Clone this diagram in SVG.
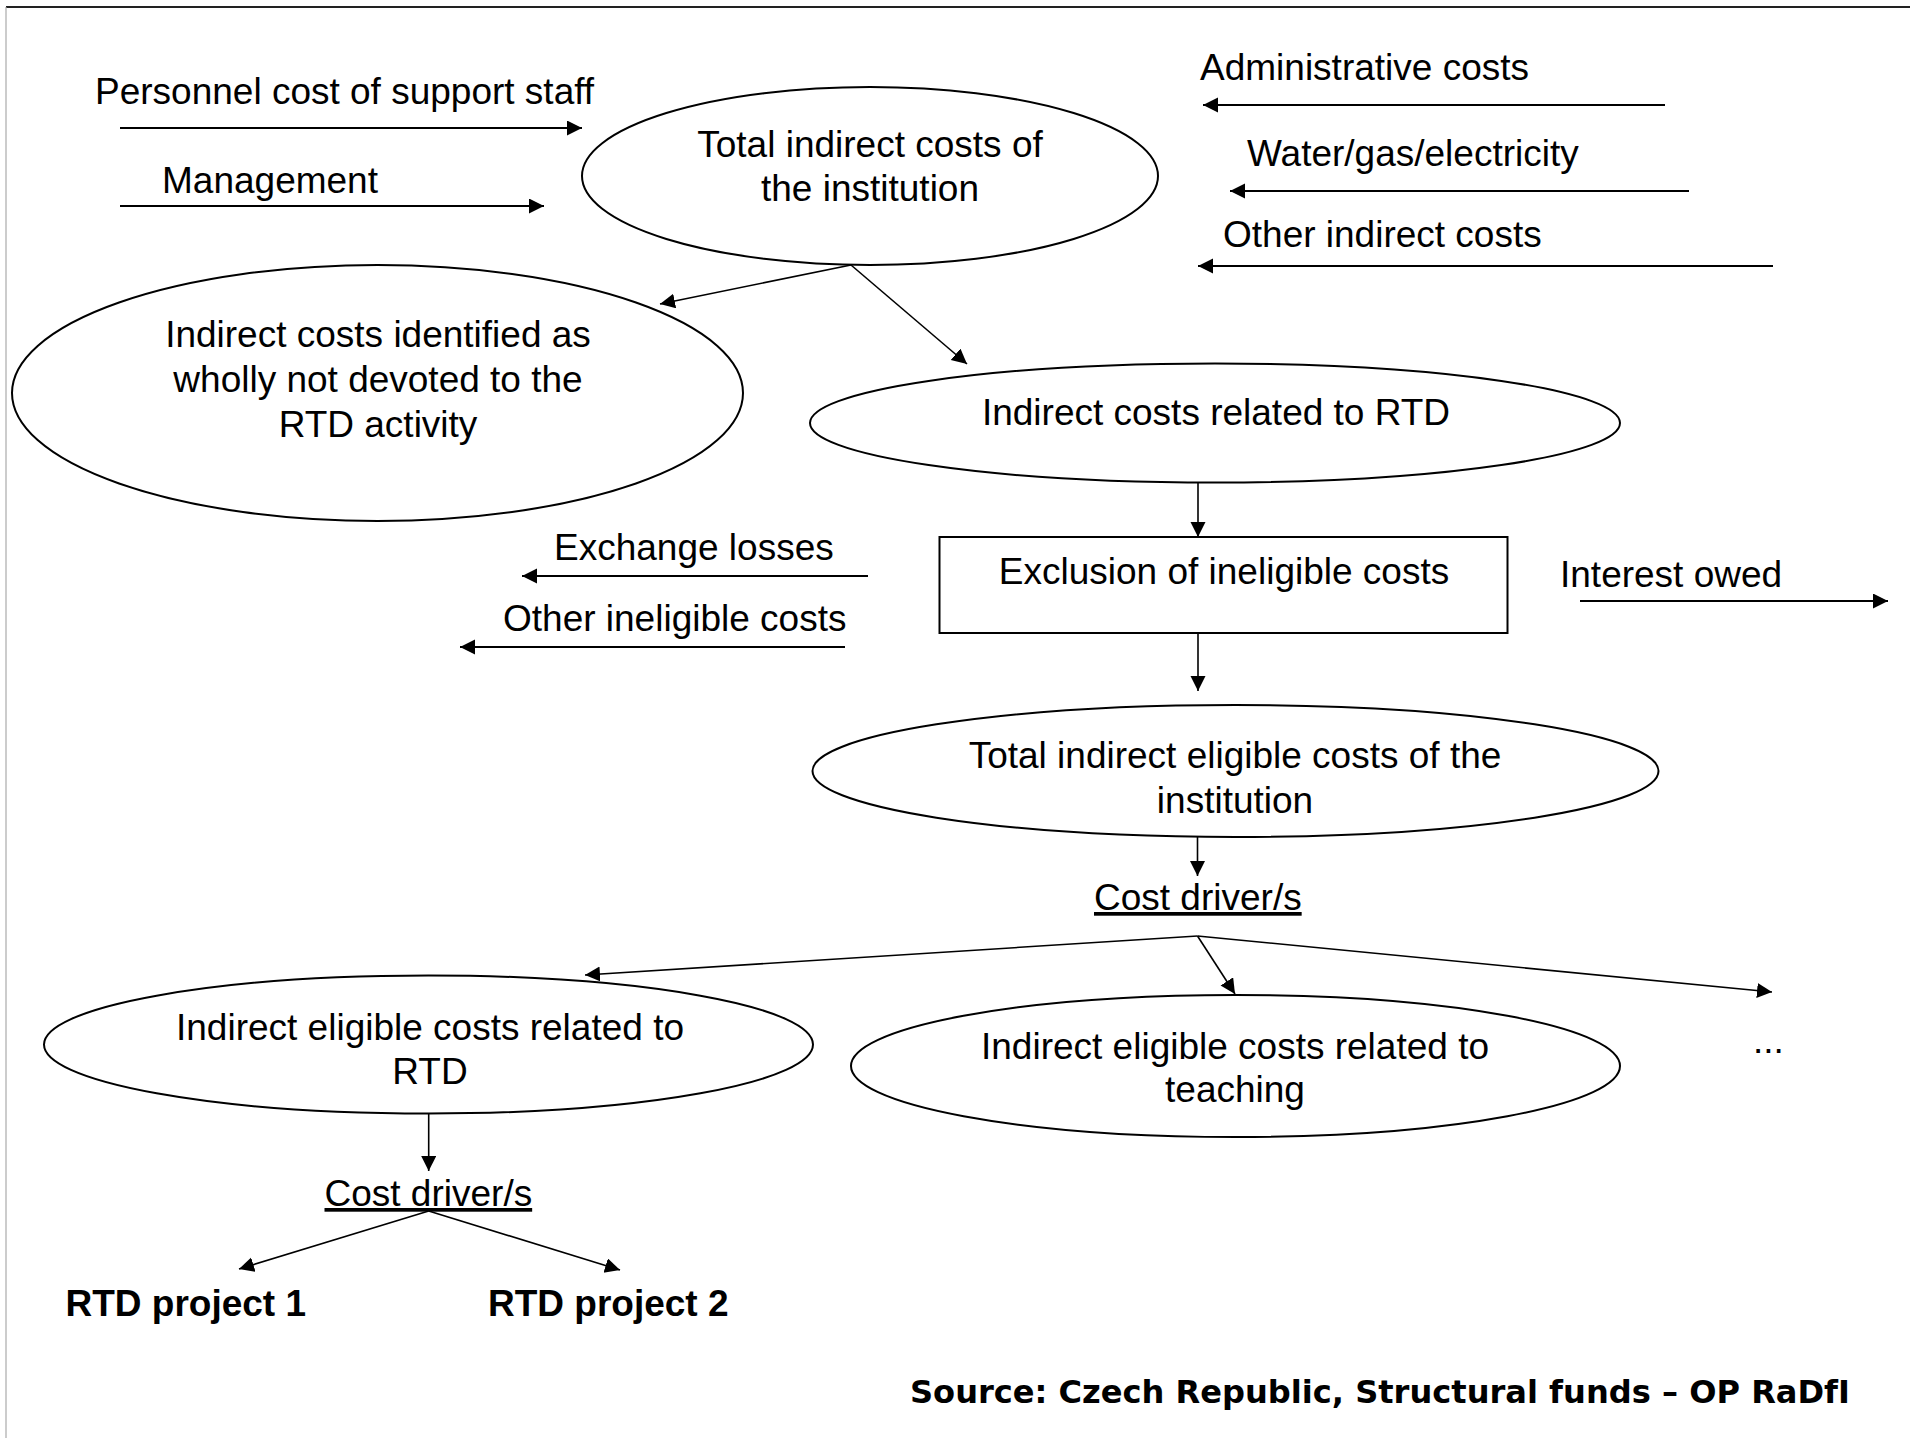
<svg xmlns="http://www.w3.org/2000/svg" width="1910" height="1438" viewBox="0 0 1910 1438">
<style>
  text { font-family: "Liberation Sans", Arial, sans-serif; font-size: 37px; fill: #000; }
  .c { text-anchor: middle; }
  .b { font-weight: bold; }
  .src { font-family: "DejaVu Sans", Verdana, sans-serif; font-weight: bold; font-size: 32px; }
  .u { text-decoration: underline; }
  .node { fill: #fff; stroke: #000; stroke-width: 2; }
  .conn line { stroke: #000; stroke-width: 1.6; marker-end: url(#ah); }
  .conn line.h { stroke-width: 2.2; }
</style>
<defs>
  <marker id="ah" markerUnits="userSpaceOnUse" markerWidth="16" markerHeight="16" refX="15" refY="7.5" orient="auto">
    <path d="M0,0 L15,7.5 L0,15 z" fill="#000"/>
  </marker>
</defs>
<rect x="0" y="0" width="1910" height="1438" fill="#fff"/>
<g id="frame">
  <line x1="6" y1="7" x2="1910" y2="7" stroke="#222" stroke-width="2.2"/>
  <line x1="6" y1="7" x2="6" y2="1438" stroke="#aaa" stroke-width="1.2"/>
</g>
<g class="conn" id="connectors">
  <line class="h" x1="120" y1="128" x2="582" y2="128"/>
  <line class="h" x1="120" y1="206" x2="544" y2="206"/>
  <line class="h" x1="1665" y1="105" x2="1203" y2="105"/>
  <line class="h" x1="1689" y1="191" x2="1230" y2="191"/>
  <line class="h" x1="1773" y1="266" x2="1198" y2="266"/>
  <line x1="851" y1="265" x2="660" y2="304"/>
  <line x1="851" y1="265" x2="967" y2="364"/>
  <line x1="1198" y1="482" x2="1198" y2="537"/>
  <line x1="1198" y1="633" x2="1198" y2="691"/>
  <line class="h" x1="868" y1="576" x2="522" y2="576"/>
  <line class="h" x1="845" y1="647" x2="460" y2="647"/>
  <line class="h" x1="1580" y1="601" x2="1888" y2="601"/>
  <line x1="1197.5" y1="837" x2="1197.5" y2="876"/>
  <line x1="1197.5" y1="936" x2="585" y2="975"/>
  <line x1="1197.5" y1="936" x2="1235" y2="994"/>
  <line x1="1197.5" y1="936" x2="1772" y2="992"/>
  <line x1="428.7" y1="1113" x2="428.7" y2="1171"/>
  <line x1="428.7" y1="1211" x2="239" y2="1269"/>
  <line x1="428.7" y1="1211" x2="620" y2="1270"/>
</g>
<g id="lbl-personnel"><text x="95" y="104">Personnel cost of support staff</text></g>
<g id="lbl-management"><text x="162" y="193">Management</text></g>
<g id="lbl-admin"><text x="1200" y="80">Administrative costs</text></g>
<g id="lbl-water"><text x="1247" y="166">Water/gas/electricity</text></g>
<g id="lbl-other-indirect"><text x="1223" y="247">Other indirect costs</text></g>
<g id="n-total">
  <ellipse class="node" cx="870" cy="176" rx="288" ry="89"/>
  <text class="c" x="870" y="157">Total indirect costs of</text>
  <text class="c" x="870" y="201">the institution</text>
</g>
<g id="n-notdevoted">
  <ellipse class="node" cx="377.5" cy="393" rx="365.5" ry="128"/>
  <text class="c" x="378" y="347">Indirect costs identified as</text>
  <text class="c" x="378" y="392">wholly not devoted to the</text>
  <text class="c" x="378" y="437">RTD activity</text>
</g>
<g id="n-rtd">
  <ellipse class="node" cx="1215" cy="423" rx="405" ry="59.5"/>
  <text class="c" x="1216" y="425">Indirect costs related to RTD</text>
</g>
<g id="n-exclusion">
  <rect class="node" x="939.5" y="537" width="568" height="96"/>
  <text class="c" x="1224" y="584">Exclusion of ineligible costs</text>
</g>
<g id="lbl-exchange"><text x="554" y="560">Exchange losses</text></g>
<g id="lbl-other-inel"><text x="503" y="631">Other ineligible costs</text></g>
<g id="lbl-interest"><text x="1560" y="587">Interest owed</text></g>
<g id="n-eligible">
  <ellipse class="node" cx="1235.5" cy="771" rx="423" ry="66"/>
  <text class="c" x="1235" y="768">Total indirect eligible costs of the</text>
  <text class="c" x="1235" y="813">institution</text>
</g>
<g id="lbl-driver1"><text class="u" x="1094" y="910">Cost driver/s</text></g>
<g id="n-elig-rtd">
  <ellipse class="node" cx="428.5" cy="1044.5" rx="384.5" ry="69"/>
  <text class="c" x="430" y="1040">Indirect eligible costs related to</text>
  <text class="c" x="430" y="1084">RTD</text>
</g>
<g id="n-elig-teach">
  <ellipse class="node" cx="1235.5" cy="1066" rx="384.5" ry="71"/>
  <text class="c" x="1235" y="1059">Indirect eligible costs related to</text>
  <text class="c" x="1235" y="1102">teaching</text>
</g>
<g id="lbl-more"><text x="1753" y="1053">...</text></g>
<g id="lbl-driver2"><text class="u" x="324.5" y="1206">Cost driver/s</text></g>
<g id="n-proj1"><text class="b" x="65.5" y="1316">RTD project 1</text></g>
<g id="n-proj2"><text class="b" x="488" y="1316">RTD project 2</text></g>
<g id="lbl-source"><text class="src" x="910" y="1403" textLength="940" lengthAdjust="spacingAndGlyphs">Source: Czech Republic, Structural funds – OP RaDfI</text></g>
</svg>
